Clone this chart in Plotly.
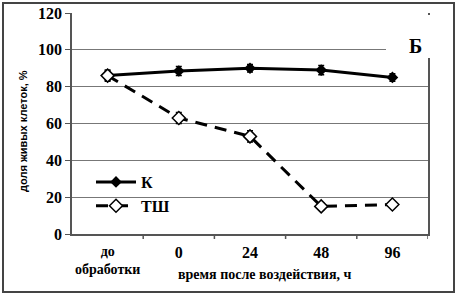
import plotly.graph_objects as go

categories = ["до обработки", "0", "24", "48", "96"]
k_values = [86, 88.5, 90, 89, 85]
k_err = [2.5, 2.5, 2, 2.5, 2]
tsh_values = [86, 63, 53, 15, 16]
tsh_err = [3, 3, 3, 2, 1.5]
y_ticks = [0, 20, 40, 60, 80, 100, 120]

W, H = 458, 296
L, R, T, B = 72, 30, 13, 62
pw, ph = W - L - R, H - T - B

def px(x):
    return (x - L) / pw

def py(y):
    return (H - B - y) / ph

xs = list(range(len(categories)))
serif = "Liberation Serif"

fig = go.Figure()
fig.add_trace(go.Scatter(
    x=xs, y=k_values, name="К", mode="lines+markers",
    line=dict(color="black", width=3),
    marker=dict(symbol="diamond", size=9, color="black"),
    error_y=dict(type="data", array=k_err, color="black", thickness=1.5, width=3),
))
fig.add_trace(go.Scatter(
    x=xs, y=tsh_values, name="ТШ", mode="lines+markers",
    line=dict(color="black", width=3, dash="12px,8px"),
    marker=dict(symbol="diamond", size=10, color="white", line=dict(color="black", width=1.5)),
    error_y=dict(type="data", array=tsh_err, color="black", thickness=1.5, width=3),
))

ticktext = [""] + categories[1:]

fig.update_layout(
    width=W, height=H,
    margin=dict(l=L, r=R, t=T, b=B, autoexpand=False),
    paper_bgcolor="white", plot_bgcolor="white",
    showlegend=True,
    legend=dict(x=px(91), y=py(165), xanchor="left", yanchor="top",
                font=dict(family=serif, size=16, color="black", weight="bold"),
                bgcolor="rgba(0,0,0,0)", tracegroupgap=0, itemwidth=40),
    xaxis=dict(
        automargin=False,
        range=[-0.5, 4.5], tickmode="array", tickvals=xs, ticktext=ticktext,
        showgrid=False, zeroline=False,
        showline=True, linecolor="#555555", linewidth=1.5,
        ticks="", ticklabelstandoff=3,
        tickfont=dict(family=serif, size=16, color="black", weight="bold"),
    ),
    yaxis=dict(
        automargin=False,
        range=[0, 120], tickmode="array", tickvals=y_ticks,
        showgrid=True, gridcolor="#777777", gridwidth=1.2, zeroline=False,
        showline=True, linecolor="#555555", linewidth=1.5, mirror=True,
        ticks="outside", ticklen=5, tickcolor="#555555",
        tickfont=dict(family=serif, size=16, color="black", weight="bold"),
    ),
)

fig.add_annotation(x=px(23), y=py(131), xref="paper", yref="paper",
                   xanchor="center", yanchor="middle",
                   text="<b>доля живых клеток, %</b>", textangle=-90, showarrow=False,
                   font=dict(family="Liberation Sans", size=11, color="black"))

fig.add_annotation(x=0, y=py(260), xref="x", yref="paper",
                   xanchor="center", yanchor="middle",
                   text="<b>до<br>обработки</b>", showarrow=False,
                   font=dict(family=serif, size=14, color="black"))

for b in [0.5, 1.5, 2.5, 3.5, 4.5]:
    fig.add_shape(type="line", xref="x", yref="paper", x0=b, x1=b, y0=0, y1=py(239),
                  line=dict(color="#555555", width=1.5))

fig.add_shape(type="rect", xref="paper", yref="paper",
              x0=px(386), x1=px(445), y0=py(58), y1=py(15),
              fillcolor="white", line=dict(width=0), layer="above")
fig.add_annotation(x=px(415), y=py(46), xref="paper", yref="paper",
                   xanchor="center", yanchor="middle", text="<b>Б</b>",
                   showarrow=False, font=dict(family=serif, size=20, color="black"))

fig.add_annotation(x=px(265), y=py(274), xref="paper", yref="paper",
                   xanchor="center", yanchor="middle",
                   text="<b>время после воздействия, ч</b>", showarrow=False,
                   font=dict(family=serif, size=14, color="black"))

fig.add_shape(type="rect", xref="paper", yref="paper",
              x0=px(3), x1=px(454), y0=py(292), y1=py(3),
              line=dict(color="#444444", width=2), fillcolor="rgba(0,0,0,0)")

fig.write_html("out.html", config={"displayModeBar": False},
               post_script="document.body.style.margin='0';document.body.style.overflow='hidden';")
